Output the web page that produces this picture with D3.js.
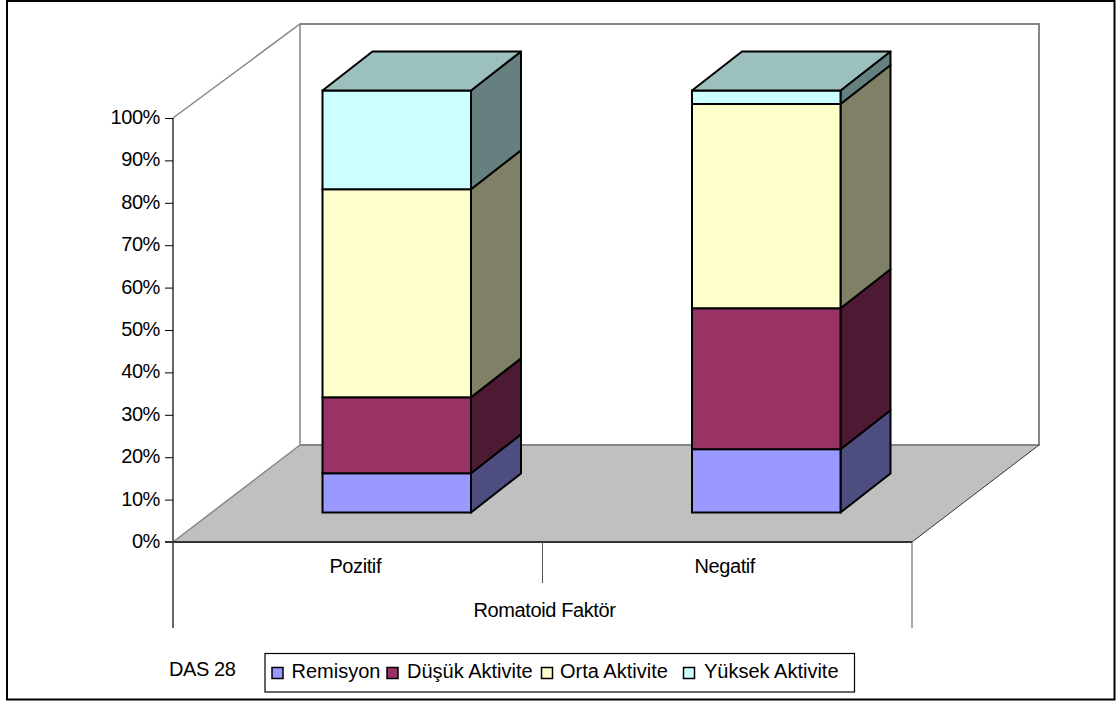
<!DOCTYPE html>
<html>
<head>
<meta charset="utf-8">
<script src="https://cdn.jsdelivr.net/npm/d3@7"></script>
<style>
  html, body { margin: 0; padding: 0; background: #fff; }
  svg { display: block; }
  text { font-family: "Liberation Sans", Arial, sans-serif; font-size: 20px; letter-spacing: -0.4px; fill: #000; }
  .legend-label { letter-spacing: 0; }
</style>
</head>
<body>
<svg id="chart" width="1116" height="702"></svg>
<script>
const categories = ['Pozitif', 'Negatif']
const seriesNames = ['Remisyon', 'Düşük Aktivite', 'Orta Aktivite', 'Yüksek Aktivite']
const remisyon = [9.3, 15]
const dusukAktivite = [18, 33.4]
const ortaAktivite = [49.3, 48.4]
const yuksekAktivite = [23.4, 3.2]
const tickValues = [0, 10, 20, 30, 40, 50, 60, 70, 80, 90, 100]
const axisTitle = 'Romatoid Faktör'
const legendTitle = 'DAS 28'

const frontColors = ['#9999ff', '#993366', '#ffffcc', '#ccffff']
const sideColors = ['#4d4d80', '#4d1a33', '#808066', '#668080']
const topColor = '#9cc0be'

const svg = d3.select('#chart')
const line = d3.line()
const poly = pts => line(pts) + 'Z'

// plot box: front plane of the floor plus the offset to the back wall
const plotLeft = 173, plotRight = 912, plotBottom = 542, plotTop = 118
const wallDx = 127, wallDy = -97
// bars sit part way into the floor
const barDx = 39, barDepthX = 50, barDepthY = -39
const barWidth = 148.5

const y = d3.scaleLinear().domain([0, 100]).range([plotBottom, plotTop])
const barY = d3.scaleLinear().domain([0, 100]).range([512.5, 90.5])
const x = d3.scaleBand().domain(categories).range([plotLeft, plotRight])

const rows = categories.map((c, i) => ({
  category: c,
  [seriesNames[0]]: remisyon[i],
  [seriesNames[1]]: dusukAktivite[i],
  [seriesNames[2]]: ortaAktivite[i],
  [seriesNames[3]]: yuksekAktivite[i]
}))
const stacked = d3.stack().keys(seriesNames)(rows)

// outer frame
svg.append('rect')
  .attr('x', 7).attr('y', 1).attr('width', 1107.5).attr('height', 698.5)
  .attr('fill', '#fff').attr('stroke', '#000').attr('stroke-width', 2)

// floor and walls
const wallTop = 24, wallBottom = plotBottom + wallDy
svg.append('path')
  .attr('d', poly([[plotLeft, plotBottom], [plotRight, plotBottom], [plotRight + wallDx, wallBottom], [plotLeft + wallDx, wallBottom]]))
  .attr('fill', '#c0c0c0')
svg.append('path')
  .attr('d', line([[plotLeft, plotTop], [plotLeft + wallDx, wallTop], [plotLeft + wallDx, wallBottom], [plotLeft, plotBottom]]))
  .attr('fill', 'none').attr('stroke', '#868686').attr('stroke-width', 1.5)
svg.append('path')
  .attr('d', line([[plotLeft + wallDx, wallTop], [plotRight + wallDx, wallTop], [plotRight + wallDx, wallBottom], [plotLeft + wallDx, wallBottom]]))
  .attr('fill', 'none').attr('stroke', '#868686').attr('stroke-width', 2)
svg.append('line')
  .attr('x1', plotRight).attr('y1', plotBottom).attr('x2', plotRight + wallDx).attr('y2', wallBottom)
  .attr('stroke', '#333').attr('stroke-width', 1)

// stacked bars, each segment as a front and a side face
const barLeft = c => x(c) + (x.bandwidth() - barWidth) / 2 + barDx
stacked.forEach((layer, s) => {
  const g = svg.append('g').attr('class', 'series')
  g.selectAll('path.side').data(layer).join('path')
    .attr('class', 'side')
    .attr('d', d => {
      const x1 = barLeft(d.data.category) + barWidth
      return poly([
        [x1, barY(d[0])], [x1 + barDepthX, barY(d[0]) + barDepthY],
        [x1 + barDepthX, barY(d[1]) + barDepthY], [x1, barY(d[1])]
      ])
    })
    .attr('fill', sideColors[s]).attr('stroke', '#000').attr('stroke-width', 2)
    .attr('stroke-linejoin', 'round')
  g.selectAll('rect').data(layer).join('rect')
    .attr('x', d => barLeft(d.data.category))
    .attr('y', d => barY(d[1]))
    .attr('width', barWidth)
    .attr('height', d => barY(d[0]) - barY(d[1]))
    .attr('fill', frontColors[s]).attr('stroke', '#000').attr('stroke-width', 2)
})

// lid on the top of each stack
svg.append('g').selectAll('path').data(stacked[stacked.length - 1]).join('path')
  .attr('d', d => {
    const x0 = barLeft(d.data.category), yTop = barY(d[1])
    return poly([
      [x0, yTop], [x0 + barWidth, yTop],
      [x0 + barWidth + barDepthX, yTop + barDepthY], [x0 + barDepthX, yTop + barDepthY]
    ])
  })
  .attr('fill', topColor).attr('stroke', '#000').attr('stroke-width', 2)
  .attr('stroke-linejoin', 'round')

// value axis
const yAxis = svg.append('g')
  .attr('transform', `translate(${plotLeft},0)`)
  .call(d3.axisLeft(y).tickValues(tickValues).tickFormat(d => d + '%').tickSize(8).tickPadding(5))
yAxis.select('.domain').remove()
yAxis.selectAll('.tick line').attr('stroke', '#000').attr('stroke-width', 1)
yAxis.selectAll('text').style('font-size', '20px').attr('fill', '#000').attr('y', -1)

// category axis with its two-level dividers
const axisBottom = 628
svg.append('line')
  .attr('x1', plotLeft).attr('y1', plotTop).attr('x2', plotLeft).attr('y2', axisBottom)
  .attr('stroke', '#000').attr('stroke-width', 1.2)
svg.append('line')
  .attr('x1', plotLeft - 8).attr('y1', plotBottom).attr('x2', plotRight).attr('y2', plotBottom)
  .attr('stroke', '#333').attr('stroke-width', 2)
svg.append('line')
  .attr('x1', x(categories[1])).attr('y1', plotBottom).attr('x2', x(categories[1])).attr('y2', 583)
  .attr('stroke', '#555').attr('stroke-width', 1)
svg.append('line')
  .attr('x1', plotRight).attr('y1', plotBottom).attr('x2', plotRight).attr('y2', axisBottom)
  .attr('stroke', '#555').attr('stroke-width', 1)

svg.append('g').selectAll('text').data(categories).join('text')
  .attr('x', c => x(c) + x.bandwidth() / 2 - 2.5)
  .attr('y', 573)
  .attr('text-anchor', 'middle')
  .text(c => c)
svg.append('text')
  .attr('x', 544.5).attr('y', 617).attr('text-anchor', 'middle')
  .text(axisTitle)
svg.append('text')
  .attr('x', 169).attr('y', 676)
  .text(legendTitle)

// legend
const legendSwatchX = [272, 387, 541.5, 683.5]
const legendTextX = [291.5, 407, 560, 704]
svg.append('rect')
  .attr('x', 265).attr('y', 653.5).attr('width', 589.5).attr('height', 38.5)
  .attr('fill', '#fff').attr('stroke', '#000').attr('stroke-width', 1.2)
const legendItems = svg.append('g').selectAll('g').data(seriesNames).join('g')
legendItems.append('rect')
  .attr('x', (d, i) => legendSwatchX[i]).attr('y', 667.5)
  .attr('width', 11).attr('height', 11)
  .attr('fill', (d, i) => frontColors[i]).attr('stroke', '#000').attr('stroke-width', 1.5)
legendItems.append('text')
  .attr('class', 'legend-label')
  .attr('x', (d, i) => legendTextX[i]).attr('y', 678)
  .text(d => d)
</script>
</body>
</html>
